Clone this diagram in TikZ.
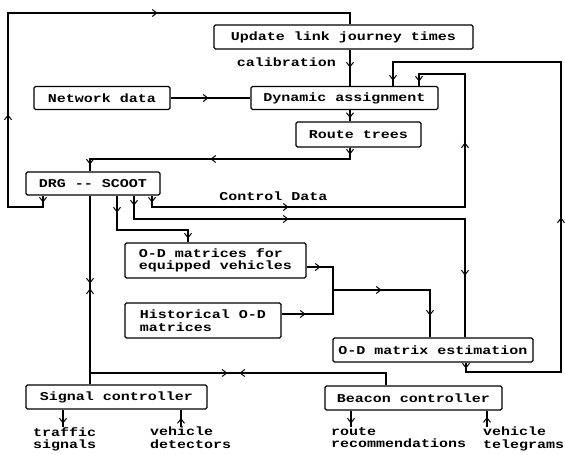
\documentclass[tikz,border=0pt]{standalone}
\usepackage{fontspec}
\newfontfamily\plotfont[FakeStretch=1.25]{Liberation Mono}
\usetikzlibrary{arrows.meta,decorations.markings}
\tikzset{
  wire/.style={line width=1.1pt},
  box/.style={draw,line width=1.1pt,rounded corners=1.5pt,inner sep=0pt},
  lbl/.style={inner sep=0pt,anchor=north west,align=left},
  ah/.style={postaction={decorate,decoration={markings,mark=at position #1 with {\arrow[line width=1pt]{Straight Barb[length=4.5pt,width=7pt]}}}}},
  rah/.style={postaction={decorate,decoration={markings,mark=at position #1 with {\arrowreversed[line width=1pt]{Straight Barb[length=4.5pt,width=7pt]}}}}},
}
\begin{document}
\begin{tikzpicture}[x=1pt,y=-1pt,
  every node/.style={font=\plotfont\bfseries\fontsize{12}{12.5}\selectfont}]
\useasboundingbox (0,0) rectangle (565,455);
% boxes
\node[box,minimum width=259pt,minimum height=24pt] (upd) at (343.5,37) {Update link journey times};
\node[box,minimum width=136pt,minimum height=23pt] (net) at (102,98) {Network data};
\node[box,minimum width=187pt,minimum height=23pt] (dyn) at (344.5,98) {Dynamic assignment};
\node[box,minimum width=125pt,minimum height=25pt] (route) at (358.5,134.5) {Route trees};
\node[box,minimum width=134pt,minimum height=23pt] (drg) at (93,183.5) {DRG -- SCOOT};
\node[box,minimum width=181pt,minimum height=35pt,align=left] (odeq) at (215.5,260.5) {O-D matrices for\\equipped vehicles};
\node[box,minimum width=156pt,minimum height=35pt,align=left] (hist) at (203,320.5) {Historical O-D\\matrices\phantom{ O-D}};
\node[box,minimum width=200pt,minimum height=24pt] (odest) at (433,350) {O-D matrix estimation};
\node[box,minimum width=181pt,minimum height=24pt] (sig) at (116.5,397) {Signal controller};
\node[box,minimum width=177pt,minimum height=24pt] (bea) at (413.5,398) {Beacon controller};
% text labels
\node (cal) at (286.5,62) {calibration};
\node (cd) at (273.5,196) {Control Data};
\node[lbl] (traf) at (33,427) {traffic\\signals};
\node[lbl] (vdet) at (150,427) {vehicle\\detectors};
\node[lbl] (rrec) at (331,427) {route\\recommendations};
\node[lbl] (vtel) at (483,427) {vehicle\\telegrams};
% helper coordinates
\coordinate (xA) at (43,0);
\coordinate (xU) at (350,0);
\coordinate (xS) at (90,0);
\coordinate (xC) at (152,0);
\coordinate (xD) at (419,0);
\coordinate (xB) at (134,0);
\coordinate (xE) at (465,0);
\coordinate (xF) at (117,0);
\coordinate (xG) at (188,0);
\coordinate (yH) at (0,267);
\coordinate (xJ) at (430,0);
\coordinate (yK) at (0,314);
\coordinate (xL) at (466,0);
\coordinate (xM) at (393,0);
\coordinate (xN) at (386,0);
\coordinate (xT) at (63,0);
\coordinate (xV) at (181,0);
\coordinate (xR) at (351,0);
\coordinate (xW) at (487,0);
\coordinate (j) at (333,290);
\coordinate (jj) at (90,373);
% connectors
\draw[wire,ah=7pt,ah=139pt,ah=390pt] (drg.south -| xA) -- (43,207) -- (8,207) -- (8,13) -- (350,13) -- (upd.north -| xU);
\draw[wire,ah=18pt] (upd.south -| xU) -- (dyn.north -| xU);
\draw[wire,ah=38pt] (net.east) -- (dyn.west);
\draw[wire,ah=8pt] (dyn.south -| xU) -- (route.north -| xU);
\draw[wire,ah=7pt,ah=151pt,ah=277pt] (route.south -| xU) -- (350,159) -- (90,159) -- (drg.north -| xS);
\draw[wire,ah=7pt,ah=148pt,ah=389pt,ah=511pt] (drg.south -| xC) -- (152,207) -- (465,207) -- (465,74) -- (419,74) -- (dyn.north -| xD);
\draw[wire,ah=10pt,ah=178pt,ah=411pt] (drg.south -| xB) -- (134,219) -- (465,219) -- (odest.north -| xE);
\draw[wire,ah=17pt,ah=114pt] (drg.south -| xF) -- (117,230) -- (188,230) -- (odeq.north -| xG);
\draw[wire,ah=14pt,ah=98pt,ah=172pt] (odeq.east |- yH) -- (333,267) -- (j) -- (430,290) -- (odest.north -| xJ);
\draw[wire,ah=24pt] (hist.east |- yK) -- (333,314) -- (j);
\draw[wire,ah=6pt,ah=259pt,ah=601pt] (odest.south -| xL) -- (466,372) -- (561,372) -- (561,62) -- (393,62) -- (dyn.north -| xM);
\draw[wire,ah=88pt,rah=93pt] (drg.south -| xS) -- (sig.north -| xS);
\draw[wire,ah=159pt,rah=171pt] (bea.north -| xN) -- (386,373) -- (jj);
\draw[wire,ah=14pt] (sig.south -| xT) -- (traf.north -| xT);
\draw[wire,ah=9pt] (vdet.north -| xV) -- (sig.south -| xV);
\draw[wire,ah=13pt] (bea.south -| xR) -- (rrec.north -| xR);
\draw[wire,ah=10pt] (vtel.north -| xW) -- (bea.south -| xW);
\end{tikzpicture}
\end{document}
